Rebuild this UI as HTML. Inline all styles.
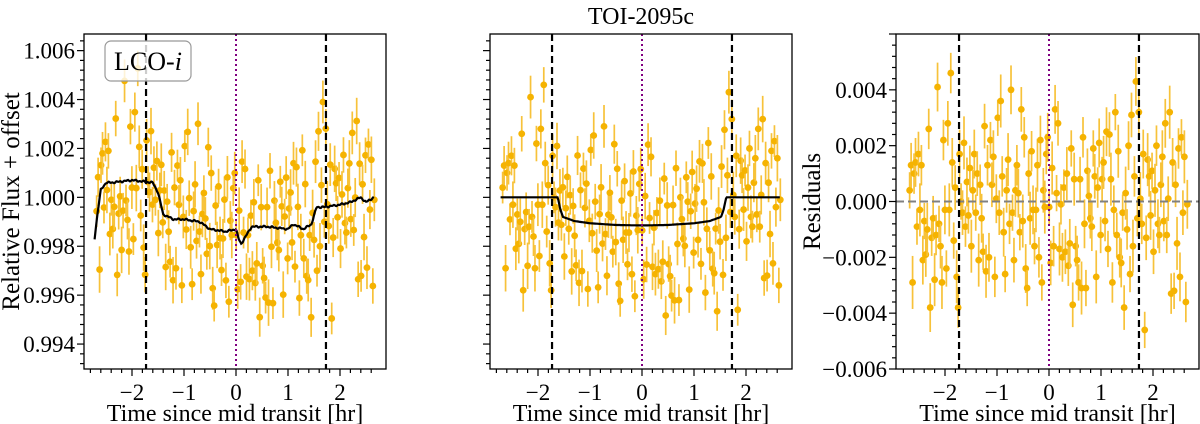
<!DOCTYPE html>
<html><head><meta charset="utf-8"><style>
html,body{margin:0;padding:0;background:#fff;width:1200px;height:424px;overflow:hidden}
svg{display:block;font-family:"Liberation Serif",serif}
</style></head><body>
<svg id="chart" width="1200" height="424" xmlns="http://www.w3.org/2000/svg">
<text x="641" y="24" font-size="24" text-anchor="middle">TOI-2095c</text>
</svg>
<script>
// residuals (units 1e-3), evenly spaced in time
const resid = [0.4,1.3,-2.9,1.0,1.4,-0.9,1.7,-0.3,1.3,-2.1,-0.7,-1.9,-1.0,2.6,-3.8,-1.3,-0.6,-2.8,-1.2,4.1,-0.8,-1.6,-2.9,2.2,-0.3,-2.4,2.8,-0.3,4.6,1.4,-1.4,0.5,-2.7,-3.8,1.7,0.0,-0.4,2.1,-0.9,0.7,-0.5,1.2,-1.6,0.4,1.7,-0.4,1.0,-2.1,0.6,-0.6,-1.8,2.7,-2.5,1.3,-2.0,2.2,0.6,1.6,-2.7,0.1,3.0,-0.4,3.6,0.9,-1.1,-2.6,0.4,1.5,-0.8,4.0,-0.4,-2.1,0.4,1.3,0.3,-1.1,3.3,-0.7,2.3,-2.4,-3.1,1.0,-0.6,1.8,-0.3,-1.6,-0.3,1.3,-2.0,2.2,-2.9,0.4,-0.2,1.7,2.3,-0.2,-2.2,1.2,-1.6,3.3,0.3,2.8,-1.7,-0.1,-2.0,0.5,-1.8,1.0,-2.3,-1.5,1.9,-3.7,0.8,-1.6,-2.1,-2.9,0.8,-3.1,2.3,-0.8,-3.1,1.1,0.2,-0.6,-0.9,1.9,0.9,-2.7,0.5,2.1,-1.2,0.8,1.4,-0.7,2.5,-1.7,2.4,0.8,-2.9,-0.3,3.2,-1.2,1.8,-2.0,-2.2,-0.4,-3.8,0.3,-1.0,2.0,-2.6,3.1,-1.6,0.9,4.3,-0.6,3.2,0.1,-0.8,1.7,-4.6,-1.3,1.5,0.9,-0.5,1.1,-1.8,0.4,2.0,-0.8,-1.2,0.6,1.6,-0.7,2.8,-1.2,0.1,3.2,-3.3,1.4,-3.2,0.6,-1.5,1.9,-2.7,2.3,-0.4,1.6,-3.6,-0.1];
const tStart = -2.68, tEnd = 2.66;
// detrending + transit model (panel 1)
const modelT = [-2.72,-2.66,-2.6,-2.5,-2.4,-2.0,-1.6,-1.5,-1.4,-1.2,-1.0,-0.7,-0.5,-0.2,0.0,0.05,0.1,0.3,0.6,1.0,1.1,1.3,1.45,1.55,1.7,2.0,2.2,2.4,2.5,2.65];
const modelF = [0.9983,0.9994,1.0003,1.0006,1.0006,1.0007,1.0006,1.0002,0.9993,0.9991,0.9991,0.9990,0.9987,0.9986,0.9987,0.9983,0.9981,0.9988,0.9988,0.9987,0.9989,0.9987,0.9989,0.9996,0.9996,0.9997,0.9998,1.0000,0.9998,1.0000];
// transit model (panel 2)
const transT = [-2.72,-1.62,-1.57,-1.52,-1.3,-1.0,-0.5,0.0,0.5,1.0,1.3,1.52,1.57,1.62,2.66];
const transF = [1.0,1.0,0.9995,0.9992,0.99903,0.99894,0.99887,0.99885,0.99887,0.99894,0.99903,0.9992,0.9995,1.0,1.0];
const xTicks = [-2,-1,0,1,2];
const yTicksFlux = [0.994,0.996,0.998,1.000,1.002,1.004,1.006];
const yTicksRes = [-0.006,-0.004,-0.002,0.000,0.002,0.004];
const tMark = 1.73;

const svg = document.getElementById('chart');
const NS = 'http://www.w3.org/2000/svg';
function mk(tag, at, parent){const e=document.createElementNS(NS,tag);for(const k in at)e.setAttribute(k,at[k]);(parent||svg).appendChild(e);return e;}
function interp(xs,ys,x){if(x<=xs[0])return ys[0];for(let i=1;i<xs.length;i++){if(x<=xs[i]){const f=(x-xs[i-1])/(xs[i]-xs[i-1]);return ys[i-1]+f*(ys[i]-ys[i-1]);}}return ys[ys.length-1];}
const times = resid.map((r,i)=>tStart+i*(tEnd-tStart)/(resid.length-1));

function panel(cfg){
  const g = mk('g',{});
  
  
  const {L,R,T,B,x0,pxHr,ymin,ymax} = cfg;
  const X = t => x0 + t*pxHr;
  const Y = v => B - (v-ymin)/(ymax-ymin)*(B-T);
  const pg = mk('g',{},g);
  
  
  times.forEach((t,i)=>{
    const v = cfg.val(t,resid[i]*1e-3);
    const e = 0.00065 + 0.0003*((i*7)%5)/4;
    const ln = mk('line',{x1:X(t),x2:X(t),y1:Y(v-e),y2:Y(v+e),stroke:'#f7c23a','stroke-width':1.7},pg);
    
    
    const c = mk('circle',{cx:X(t),cy:Y(v),r:3.4,fill:'#f5b301'},pg);
    
    
  });
  if(cfg.zeroLine){
    const z = mk('line',{x1:L,x2:R,y1:Y(0),y2:Y(0),stroke:'#808080','stroke-width':2,'stroke-dasharray':'8,4'},g);
    
    
  }
  if(cfg.model){
    let d='';
    for(let t=-2.72;t<=2.66;t+=0.015){const v=interp(cfg.model[0],cfg.model[1],t)+(cfg.wiggle?0.00004*Math.sin(t*61)*Math.cos(t*23):0);d+=(d?'L':'M')+X(t).toFixed(1)+','+Y(v).toFixed(1);}
    const p = mk('path',{d,fill:'none',stroke:'#000','stroke-width':2.2},g);
    
    
  }
  [-tMark,tMark].forEach(t=>{
    const l = mk('line',{x1:X(t),x2:X(t),y1:T,y2:B,stroke:'#000','stroke-width':2.2,'stroke-dasharray':'7,4'},g);
    
    
  });
  const m = mk('line',{x1:X(0),x2:X(0),y1:T,y2:B,stroke:'#800080','stroke-width':2,'stroke-dasharray':'2,3'},g);
  
  
  const fr = mk('rect',{x:L,y:T,width:R-L,height:B-T,fill:'none',stroke:'#000','stroke-width':1.3},g);
  
  
  for(let k=-14;k<=13;k++){const t=k*0.2;const x=X(t);if(x<L||x>R)continue;const maj=Math.abs(t-Math.round(t))<1e-6;
    mk('line',{x1:x,x2:x,y1:B,y2:B+(maj?7:4),stroke:'#000','stroke-width':1.2},g);}
  xTicks.forEach(t=>{const tx=mk('text',{x:X(t),y:B+31,'font-size':23,'text-anchor':'middle'},g);tx.textContent=t<0?'\u2212'+Math.abs(t):String(t);
    });
  const xl = mk('text',{x:(L+R)/2,y:B+52,'font-size':24,'text-anchor':'middle'},g);
  xl.textContent='Time since mid transit [hr]';
  
  const step=0.0004;
  for(let v=Math.ceil(ymin/step)*step;v<=ymax+1e-9;v+=step){const y=Y(v);
    const maj=Math.abs(v/0.002-Math.round(v/0.002))<1e-3;
    mk('line',{x1:L,x2:L-(maj?7:4),y1:y,y2:y,stroke:'#000','stroke-width':1.2},g);}
  if(cfg.yTicks){cfg.yTicks.forEach(v=>{const tx=mk('text',{x:L-9,y:Y(v)+8,'font-size':23,'text-anchor':'end'},g);
    tx.textContent=(v<0?'\u2212':'')+Math.abs(v).toFixed(3);});}
  if(cfg.ylabel){const yl=mk('text',{x:0,y:0,'font-size':25,'text-anchor':'middle',transform:`translate(${cfg.ylx},${(T+B)/2}) rotate(-90)`},g);
    yl.textContent=cfg.ylabel;}
  return {g,X,Y};
}

panel({name:'raw-flux-panel',L:84,R:386,T:34,B:369,x0:236,pxHr:52,ymin:0.99298,ymax:1.00668,
  val:(t,r)=>interp(modelT,modelF,t)+r,model:[modelT,modelF],wiggle:true,yTicks:yTicksFlux,ylabel:'Relative Flux + offset',ylx:19});
panel({name:'detrended-flux-panel',L:490,R:792,T:34,B:369,x0:642,pxHr:52,ymin:0.99298,ymax:1.00668,
  val:(t,r)=>interp(transT,transF,t)+r,model:[transT,transF]});
panel({name:'residuals-panel',L:896,R:1199,T:34,B:369,x0:1049,pxHr:52,ymin:-0.006,ymax:0.006,
  val:(t,r)=>r,zeroLine:true,yTicks:yTicksRes,ylabel:'Residuals',ylx:820});

const lg = mk('g',{});


mk('rect',{x:105,y:41,width:86,height:40,rx:6,fill:'#fff','fill-opacity':0.8,stroke:'#999','stroke-width':1.2},lg);
const lt = mk('text',{x:148,y:70,'font-size':26,'text-anchor':'middle'},lg);
lt.innerHTML='LCO-<tspan font-style="italic">i</tspan>';


</script>
</body></html>
